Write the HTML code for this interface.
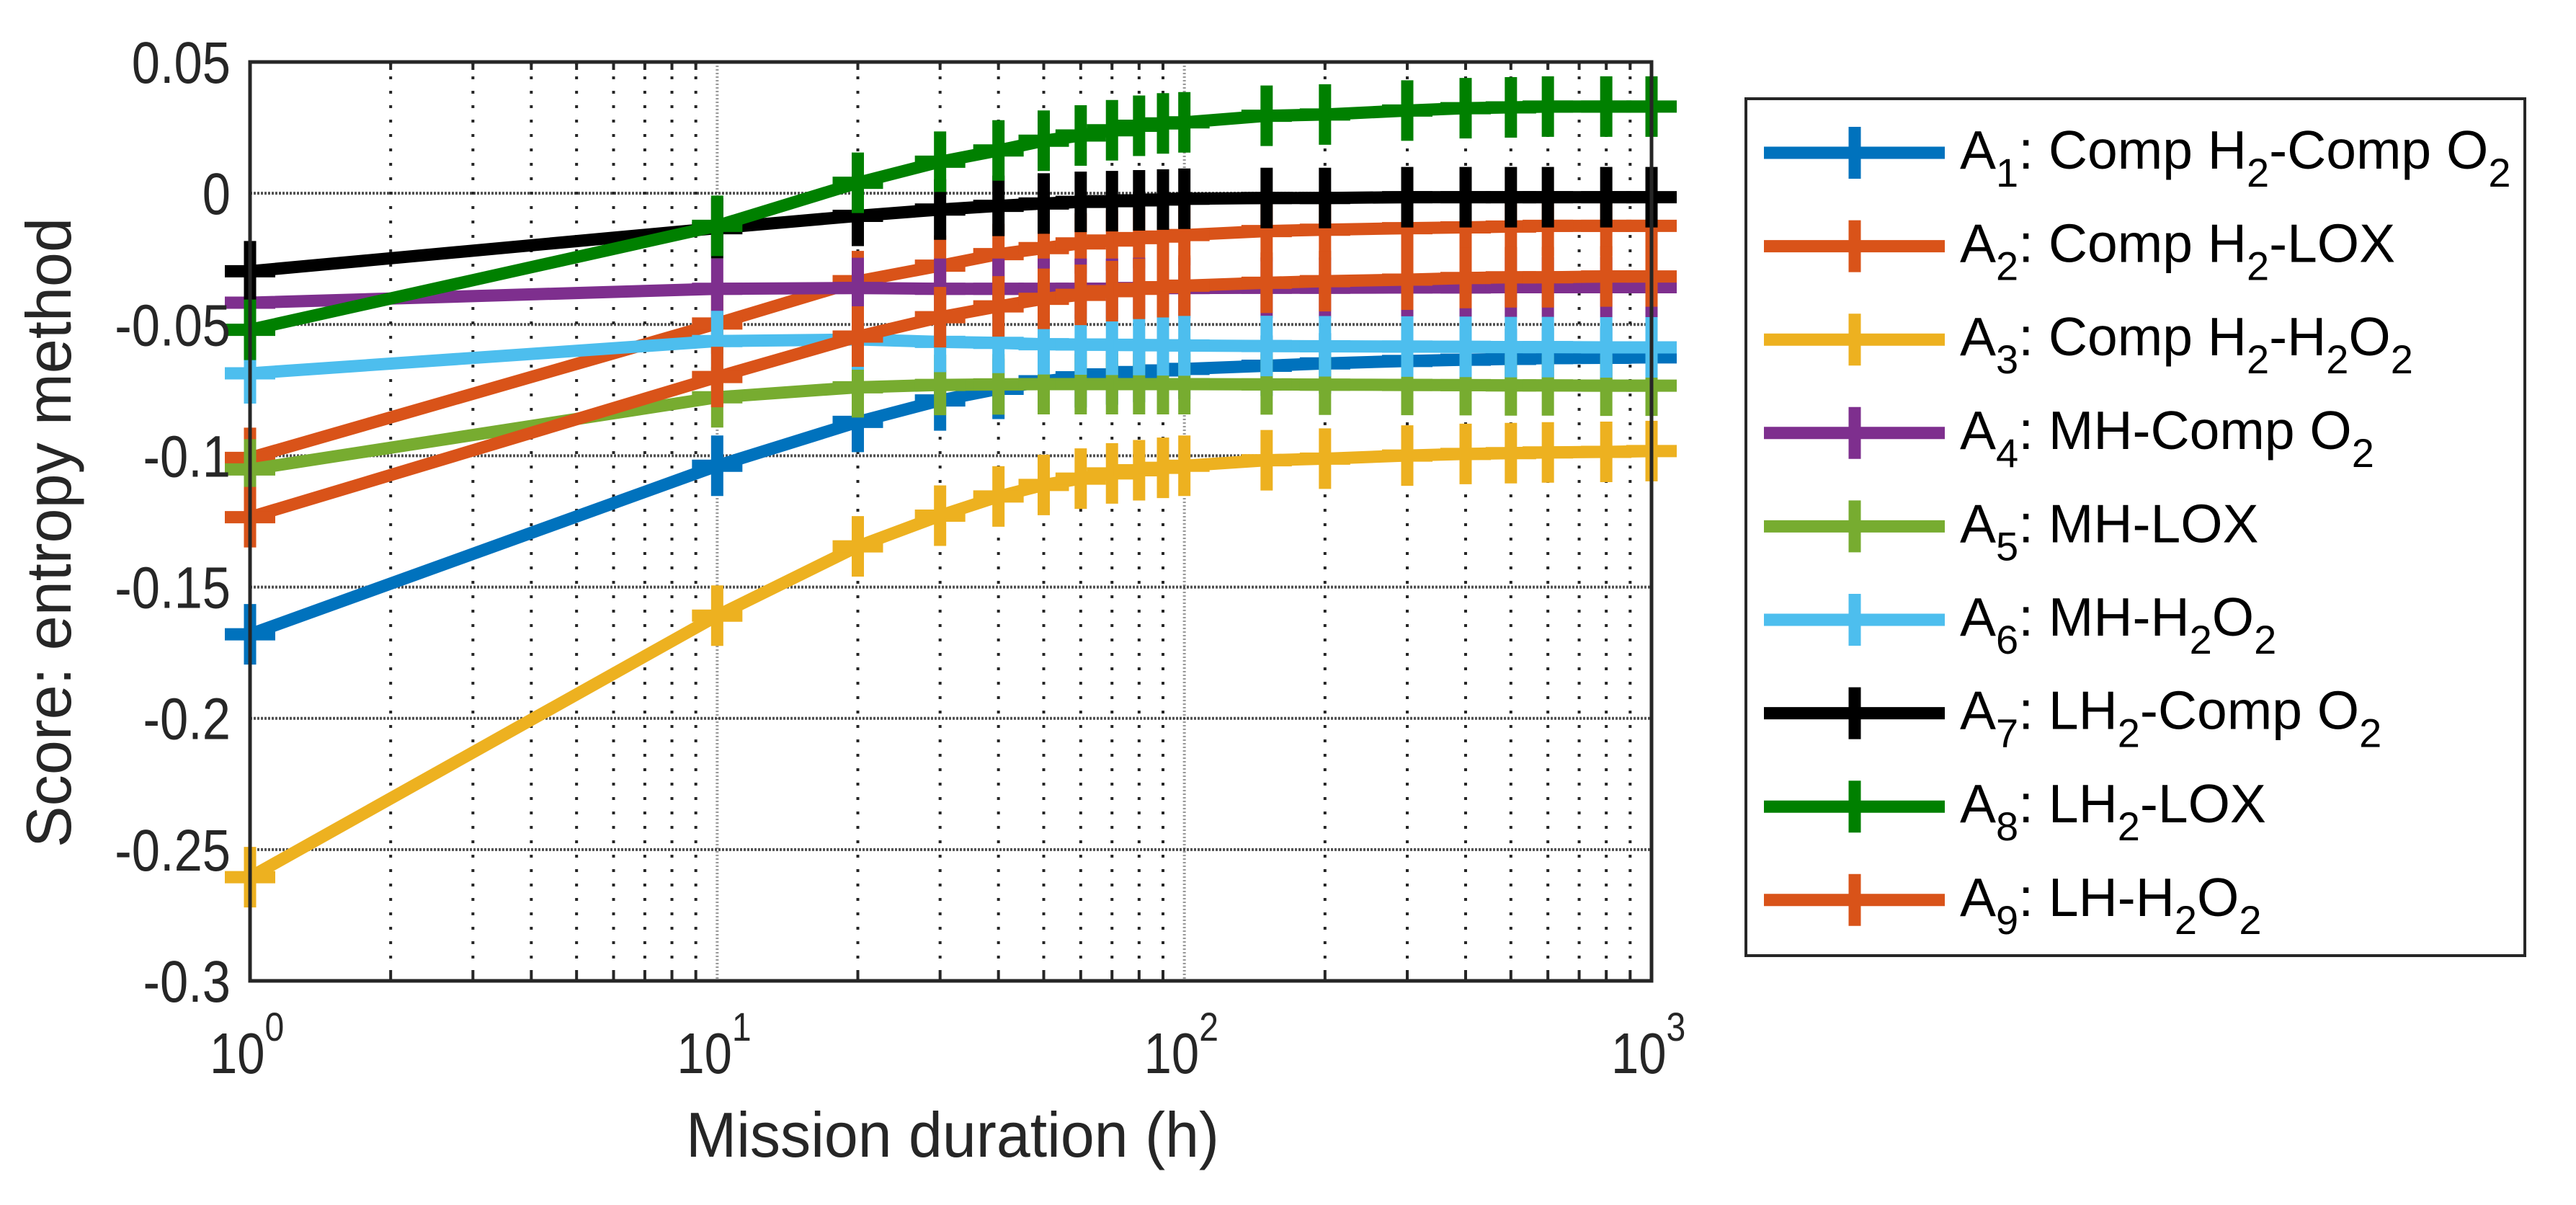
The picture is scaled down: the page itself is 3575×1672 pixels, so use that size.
<!DOCTYPE html>
<html><head><meta charset="utf-8"><style>
html,body{margin:0;padding:0;background:#fff;}
svg{display:block;font-family:"Liberation Sans",Arial,sans-serif;}
</style></head><body>
<svg id="chart" width="3575" height="1672" viewBox="0 0 3575 1672" xmlns="http://www.w3.org/2000/svg">
<rect width="3575" height="1672" fill="#fff"/>
<g id="grid"></g>
<g id="series"></g>
<g id="axes"></g>
<g id="legend"></g>
</svg>
<script>
const xValues = [1,10,20,30,40,50,60,70,80,90,100,150,200,300,400,500,600,800,1000];
const seriesNames = ["A1","A2","A3","A4","A5","A6","A7","A8","A9"];
const a1 = [-0.168,-0.1038,-0.0871,-0.0789,-0.0745,-0.0716,-0.0701,-0.069,-0.0681,-0.0675,-0.0669,-0.0657,-0.0648,-0.0639,-0.0634,-0.0631,-0.0628,-0.0627,-0.0625];
const a2 = [-0.1008,-0.0496,-0.0335,-0.0276,-0.0232,-0.0209,-0.0191,-0.018,-0.0171,-0.0165,-0.0159,-0.0144,-0.0139,-0.0133,-0.013,-0.0127,-0.0124,-0.0124,-0.0124];
const a3 = [-0.2605,-0.1609,-0.1345,-0.1228,-0.1155,-0.1111,-0.1087,-0.1067,-0.1055,-0.1046,-0.1038,-0.1017,-0.1011,-0.0999,-0.0993,-0.099,-0.0987,-0.0985,-0.0982];
const a4 = [-0.0417,-0.0364,-0.0361,-0.0364,-0.0364,-0.0364,-0.0364,-0.0364,-0.0361,-0.0361,-0.0361,-0.036,-0.036,-0.0359,-0.0359,-0.0358,-0.0358,-0.0358,-0.0358];
const a5 = [-0.1052,-0.0777,-0.0739,-0.073,-0.0728,-0.0727,-0.0727,-0.0727,-0.0727,-0.0727,-0.0727,-0.0728,-0.0729,-0.073,-0.0731,-0.0732,-0.0732,-0.0733,-0.0733];
const a6 = [-0.0686,-0.0563,-0.0557,-0.0566,-0.057,-0.0575,-0.0576,-0.0577,-0.0578,-0.0579,-0.058,-0.0582,-0.0583,-0.0584,-0.0585,-0.0586,-0.0586,-0.0587,-0.0587];
const a7 = [-0.0297,-0.0133,-0.0086,-0.0062,-0.0048,-0.0039,-0.0033,-0.003,-0.0027,-0.0024,-0.0021,-0.0018,-0.0018,-0.0015,-0.0015,-0.0015,-0.0015,-0.0015,-0.0015];
const a8 = [-0.052,-0.0124,0.004,0.012,0.0163,0.02,0.022,0.024,0.0257,0.0266,0.027,0.0295,0.030,0.0315,0.0324,0.0327,0.033,0.033,0.033];
const a9 = [-0.1234,-0.07,-0.0546,-0.0472,-0.0431,-0.0402,-0.0387,-0.0373,-0.0364,-0.0358,-0.0352,-0.0341,-0.0335,-0.0329,-0.0323,-0.032,-0.032,-0.0317,-0.0317];
const yTicks = [0.05,0,-0.05,-0.1,-0.15,-0.2,-0.25,-0.3];
const yTickLabels = ["0.05","0","-0.05","-0.1","-0.15","-0.2","-0.25","-0.3"];
const xDecades = [0,1,2,3];

const L=347,R=2292,T=86,B=1361;
const NS="http://www.w3.org/2000/svg";
const X=v=>L+(Math.log10(v)-0)/3*(R-L);
const Y=v=>T+(0.05-v)/0.35*(B-T);
function mk(tag,attrs,parent){const e=document.createElementNS(NS,tag);for(const k in attrs)e.setAttribute(k,attrs[k]);parent.appendChild(e);return e;}

const grid=document.getElementById('grid');
for(let d=0;d<3;d++){for(let m=2;m<=9;m++){const x=X(m*Math.pow(10,d));
 const g=mk('line',{x1:x,x2:x,y1:T,y2:B,stroke:'#262626','stroke-width':4,'stroke-dasharray':'4 16'},grid);
 
 
 const t1=mk('line',{x1:x,x2:x,y1:B,y2:B-11,stroke:'#262626','stroke-width':4},grid);
 
 
 const t2=mk('line',{x1:x,x2:x,y1:T,y2:T+11,stroke:'#262626','stroke-width':4},grid);
 
 
}}
xDecades.forEach(d=>{const x=X(Math.pow(10,d));
 const g=mk('line',{x1:x,x2:x,y1:T,y2:B,stroke:'#555','stroke-width':4,'stroke-dasharray':'2 3','opacity':0.6},grid);
 
 
});
yTicks.forEach(v=>{const y=Y(v);
 const g=mk('line',{x1:L,x2:R,y1:y,y2:y,stroke:'#262626','stroke-width':4,'stroke-dasharray':'3 2','opacity':0.8},grid);
 
 
});

const colors=["#0072BD","#D95319","#EDB120","#7E2F8E","#77AC30","#4DBEEE","#000000","#008000","#D95319"];
const data=[a1,a2,a3,a4,a5,a6,a7,a8,a9];
const sg=document.getElementById('series');
const order=[0,1,2,3,4,5,6,7,8];
order.forEach(i=>{
 const g=mk('g',{},sg);
 
 
 const pts=data[i].map((v,j)=>X(xValues[j])+','+Y(v)).join(' ');
 const pl=mk('polyline',{points:pts,fill:'none',stroke:colors[i],'stroke-width':17,'stroke-linejoin':'round'},g);
 
 
 data[i].forEach((v,j)=>{const x=X(xValues[j]),y=Y(v);
  const p=mk('path',{d:`M${x-35},${y}H${x+35}M${x},${y-42}V${y+42}`,stroke:colors[i],'stroke-width':17,fill:'none'},g);
  
  
 });
});

const ax=document.getElementById('axes');
const box=mk('rect',{x:L,y:T,width:R-L,height:B-T,fill:'none',stroke:'#262626','stroke-width':5},ax);


yTicks.forEach((v,i)=>{const y=Y(v);
 const t=mk('text',{x:0,y:0,'text-anchor':'end','font-size':82,fill:'#262626',transform:`translate(320,${y+29}) scale(0.86,1)`},ax);
 t.textContent=yTickLabels[i];
 
 
});
xDecades.forEach(d=>{const x=X(Math.pow(10,d));
 const t=mk('text',{x:0,y:0,'font-size':80,fill:'#262626',transform:`translate(${x-56},1489) scale(0.86,1)`},ax);
 
 
 const a=mk('tspan',{},t);a.textContent='10';
 const b=mk('tspan',{'font-size':56,dy:-45},t);b.textContent=String(d);
});
const xl=mk('text',{x:952,y:1605,'font-size':88,fill:'#262626',textLength:740,lengthAdjust:'spacingAndGlyphs'},ax);
xl.textContent='Mission duration (h)';


const yl=mk('text',{x:0,y:0,'font-size':88,fill:'#262626','text-anchor':'middle',textLength:874,lengthAdjust:'spacingAndGlyphs',transform:'translate(98,739) rotate(-90)'},ax);
yl.textContent='Score: entropy method';



const lg=document.getElementById('legend');
const lb=mk('rect',{x:2423,y:137,width:1081,height:1189,fill:'#fff',stroke:'#262626','stroke-width':4},lg);


const labels=[
 [["A",0],["1",1],[": Comp H",0],["2",1],["-Comp O",0],["2",1]],
 [["A",0],["2",1],[": Comp H",0],["2",1],["-LOX",0]],
 [["A",0],["3",1],[": Comp H",0],["2",1],["-H",0],["2",1],["O",0],["2",1]],
 [["A",0],["4",1],[": MH-Comp O",0],["2",1]],
 [["A",0],["5",1],[": MH-LOX",0]],
 [["A",0],["6",1],[": MH-H",0],["2",1],["O",0],["2",1]],
 [["A",0],["7",1],[": LH",0],["2",1],["-Comp O",0],["2",1]],
 [["A",0],["8",1],[": LH",0],["2",1],["-LOX",0]],
 [["A",0],["9",1],[": LH-H",0],["2",1],["O",0],["2",1]]
];
labels.forEach((parts,i)=>{const y=212+i*129.6;
 const g=mk('g',{},lg);
 
 
 mk('path',{d:`M2448,${y}H2699M2574,${y-36}V${y+36}`,stroke:colors[i],'stroke-width':17,fill:'none'},g);
 const t=mk('text',{x:2720,y:y+22,'font-size':75,fill:'#000'},g);
 let sub=false;
 parts.forEach(([s,isSub])=>{
  const ts=mk('tspan',{},t);
  if(isSub&&!sub){ts.setAttribute('dy',25);ts.setAttribute('font-size',56);}
  else if(!isSub&&sub){ts.setAttribute('dy',-25);}
  else if(isSub){ts.setAttribute('font-size',56);}
  ts.textContent=s;sub=!!isSub;
 });
});
</script>
</body></html>
